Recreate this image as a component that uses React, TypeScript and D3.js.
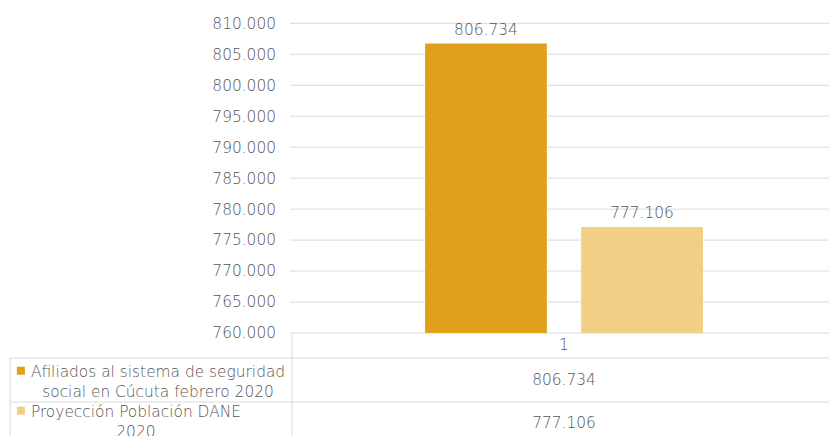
import React from "react";
import * as d3 from "d3";

const categories = ["1"];
const seriesNames = [
  ["Afiliados al sistema de seguridad", "social en Cúcuta febrero 2020"],
  ["Proyección Población DANE", "2020"],
];
const seriesValues = [806734, 777106];
const seriesColors = ["#E1A01B", "#F1CF84"];
const yTicks = [760000, 765000, 770000, 775000, 780000, 785000, 790000, 795000, 800000, 805000, 810000];

const W = 829;
const H = 436;
const FONT_FAMILY = "'DejaVu Sans', sans-serif";
const FS = 15.4;
const FW = 200;
const TEXT = "#555555";
const GRID = "#dadada";

const locale = d3.formatLocale({ thousands: ".", decimal: ",", grouping: [3], currency: ["$", ""] });
const fmt = locale.format(",d");

let measureCtx: CanvasRenderingContext2D | null = null;
function measure(s: string): number {
  if (typeof document === "undefined") return s.length * FS * 0.55;
  if (!measureCtx) {
    const c = document.createElement("canvas");
    measureCtx = c.getContext("2d");
  }
  if (!measureCtx) return s.length * FS * 0.55;
  measureCtx.font = `${FW} ${FS}px ${FONT_FAMILY}`;
  return measureCtx.measureText(s).width;
}

export default function App() {
  const plotLeft = 290;
  const plotRight = 838;
  const y = d3.scaleLinear().domain([760000, 810000]).range([333, 23.3]);
  const x0 = d3.scaleBand<string>().domain(categories).range([plotLeft, plotRight]).paddingInner(0).paddingOuter(0.486);
  const x1 = d3
    .scaleBand<number>()
    .domain(seriesValues.map((_, i) => i))
    .range([0, x0.bandwidth()])
    .paddingInner(0.22)
    .paddingOuter(0);

  const tableTop = 358;
  const rowH = 44;
  const colX = 292;
  const leftX = 10;
  const firstColCenter = (leftX + colX) / 2;
  const keySize = 8;
  const keyGap = 6;
  const lineStep = 19.5;
  const firstLineOffset = [13.7, 9.7];
  const valueOffset = [21.5, 21];
  const catCenter = (x0(categories[0]) as number) + x0.bandwidth() / 2;

  const rowMaxW = seriesNames.map((lines) => Math.max(...lines.map(measure)));
  const widest = Math.max(...rowMaxW);
  const blockLeft = firstColCenter - (keySize + keyGap + widest) / 2;

  const textProps = { fontSize: FS, fontWeight: FW, fill: TEXT } as const;

  return (
    <svg width={W} height={H} style={{ position: "absolute", left: 0, top: 0, background: "#fff" }} fontFamily={FONT_FAMILY}>
      {yTicks.map((t) => (
        <g key={t}>
          <line x1={plotLeft} x2={W} y1={y(t)} y2={y(t)} stroke={GRID} strokeWidth={1} />
          <text x={276} y={y(t)} dy="0.35em" textAnchor="end" {...textProps}>
            {fmt(t)}
          </text>
        </g>
      ))}
      {categories.map((c) => (
        <g key={c}>
          {seriesValues.map((v, i) => {
            const bx = (x0(c) as number) + (x1(i) as number);
            const bw = x1.bandwidth();
            return (
              <g key={i}>
                <rect x={bx} y={y(v)} width={bw} height={y(760000) - y(v)} fill={seriesColors[i]} />
                <text x={bx + bw / 2} y={y(v) - 9} textAnchor="middle" {...textProps}>
                  {fmt(v)}
                </text>
              </g>
            );
          })}
          <text x={catCenter} y={345} dy="0.35em" textAnchor="middle" {...textProps}>
            {c}
          </text>
        </g>
      ))}
      <line x1={colX} x2={colX} y1={333} y2={H} stroke={GRID} />
      <line x1={leftX} x2={leftX} y1={tableTop} y2={H} stroke={GRID} />
      {[0, 1].map((r) => (
        <line key={r} x1={leftX} x2={W} y1={tableTop + r * rowH} y2={tableTop + r * rowH} stroke={GRID} />
      ))}
      {seriesValues.map((v, i) => {
        const rowTop = tableTop + i * rowH;
        const lines = seriesNames[i];
        const maxW = rowMaxW[i];
        const textCenter = blockLeft + keySize + keyGap + maxW / 2;
        const l1 = rowTop + firstLineOffset[i];
        return (
          <g key={i}>
            <rect x={blockLeft} y={l1 - keySize / 2 - 1} width={keySize} height={keySize} fill={seriesColors[i]} />
            {lines.map((ln, j) => (
              <text key={j} x={textCenter} y={l1 + j * lineStep} dy="0.35em" textAnchor="middle" {...textProps}>
                {ln}
              </text>
            ))}
            <text x={catCenter} y={rowTop + valueOffset[i]} dy="0.35em" textAnchor="middle" {...textProps}>
              {fmt(v)}
            </text>
          </g>
        );
      })}
    </svg>
  );
}
